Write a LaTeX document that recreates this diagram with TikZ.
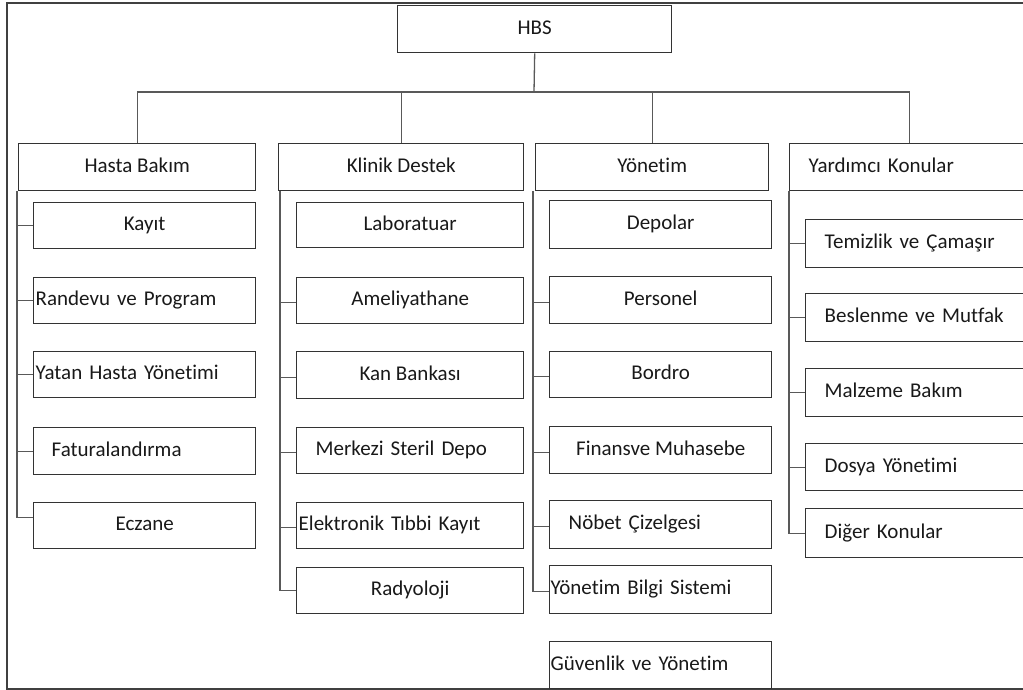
\documentclass[tikz,border=0pt]{standalone}
\usepackage{fontspec}
\setmainfont[Ligatures=NoCommon]{Carlito}
\begin{document}
\begin{tikzpicture}[x=1pt,y=-1pt,
  box/.style={draw=black!80, line width=1.4pt, inner ysep=0pt, inner xsep=0pt,
    anchor=north west, font=\fontsize{21}{25}\selectfont, text=black!90,
    text height=14pt, text depth=4pt},
  lb/.style={align=left, inner xsep=#1},
  conn/.style={draw=black!65, line width=1.3pt},
  frame/.style={draw=black!75, line width=1.5pt}]
\useasboundingbox (0,0) rectangle (1023,690);
\clip (0,0) rectangle (1023,690);
\draw[frame] (7,3) rectangle (1045,689);

% root
\node[box, minimum width=274, minimum height=47] (hbs) at (397,5) {HBS};

% level 1
\node[box, minimum width=237, minimum height=47] (hb) at (18,143) {Hasta Bakım};
\node[box, minimum width=245, minimum height=47] (kd) at (278,143) {Klinik Destek};
\node[box, minimum width=233, minimum height=47] (yn) at (535,143) {Yönetim};
\node[box, lb=19, text width=202, minimum width=240, minimum height=47] (yk) at (789,143) {Yardımcı Konular};

% Hasta Bakım children
\node[box, minimum width=222, minimum height=46] (kayit) at (33,202) {Kayıt};
\node[box, lb=2, text width=218, minimum height=46] (randevu) at (33,277) {Randevu ve Program};
\node[box, lb=2, text width=218, minimum height=46] (yatan) at (33,351) {Yatan Hasta Yönetimi};
\node[box, lb=18, text width=186, minimum height=47] (fatura) at (33,427) {Faturalandırma};
\node[box, minimum width=222, minimum height=46] (eczane) at (33,502) {Eczane};

% Klinik Destek children
\node[box, minimum width=227, minimum height=45] (lab) at (296,202) {Laboratuar};
\node[box, minimum width=227, minimum height=46] (amel) at (296,277) {Ameliyathane};
\node[box, minimum width=227, minimum height=47] (kan) at (296,351) {Kan Bankası};
\node[box, lb=19, text width=189, minimum height=46] (merkezi) at (296,427) {Merkezi Steril Depo};
\node[box, lb=2, text width=223, minimum height=46] (elek) at (296,502) {Elektronik Tıbbi Kayıt};
\node[box, minimum width=227, minimum height=46] (rad) at (296,567) {Radyoloji};

% Yönetim children
\node[box, minimum width=222, minimum height=48] (depo) at (549,200) {Depolar};
\node[box, minimum width=222, minimum height=47] (pers) at (549,276) {Personel};
\node[box, minimum width=222, minimum height=46] (bordro) at (549,351) {Bordro};
\node[box, minimum width=222, minimum height=47] (finans) at (549,426) {Finansve Muhasebe};
\node[box, lb=19, text width=184, minimum height=48] (nobet) at (549,500) {Nöbet Çizelgesi};
\node[box, lb=1, text width=220, minimum height=48] (ybs) at (549,565) {Yönetim Bilgi Sistemi};
\node[box, lb=1, text width=220, minimum height=47] (guv) at (549,641) {Güvenlik ve Yönetim};

% Yardımcı Konular children
\node[box, lb=19, text width=202, minimum height=48] (temiz) at (805,219) {Temizlik ve Çamaşır};
\node[box, lb=19, text width=202, minimum height=48] (besl) at (805,293) {Beslenme ve Mutfak};
\node[box, lb=19, text width=202, minimum height=48] (malz) at (805,368) {Malzeme Bakım};
\node[box, lb=19, text width=202, minimum height=47] (dosya) at (805,443) {Dosya Yönetimi};
\node[box, lb=19, text width=202, minimum height=49] (diger) at (805,508) {Diğer Konular};

% top connectors
\coordinate (bus) at (534,92);
\draw[conn] (hbs.south) -- (bus);
\draw[conn] (hb.north) |- (bus) -| (yk.north);
\draw[conn] (kd.north) -- (kd.north |- bus);
\draw[conn] (yn.north) -- (yn.north |- bus);

% spines
\coordinate (s1) at ([xshift=-1]hb.south west);
\coordinate (s2) at ([xshift=2]kd.south west);
\coordinate (s3) at ([xshift=-2]yn.south west);
\coordinate (s4) at (yk.south west);

\draw[conn] (s1) |- ([yshift=8]eczane.west);
\foreach \n in {kayit,randevu,yatan,fatura}
  \draw[conn] (\n.west) -- (\n.west -| s1);

\draw[conn] (s2) |- (rad.west);
\foreach \n in {amel,kan,merkezi,elek}
  \draw[conn] ([yshift=-2]\n.west) -- ([yshift=-2]\n.west -| s2);

\draw[conn] (s3) |- ([yshift=-2]ybs.west);
\foreach \n in {pers,bordro,finans,nobet}
  \draw[conn] ([yshift=-2]\n.west) -- ([yshift=-2]\n.west -| s3);

\draw[conn] (s4) |- (diger.west);
\foreach \n in {temiz,besl,malz,dosya}
  \draw[conn] (\n.west) -- (\n.west -| s4);
\end{tikzpicture}
\end{document}
